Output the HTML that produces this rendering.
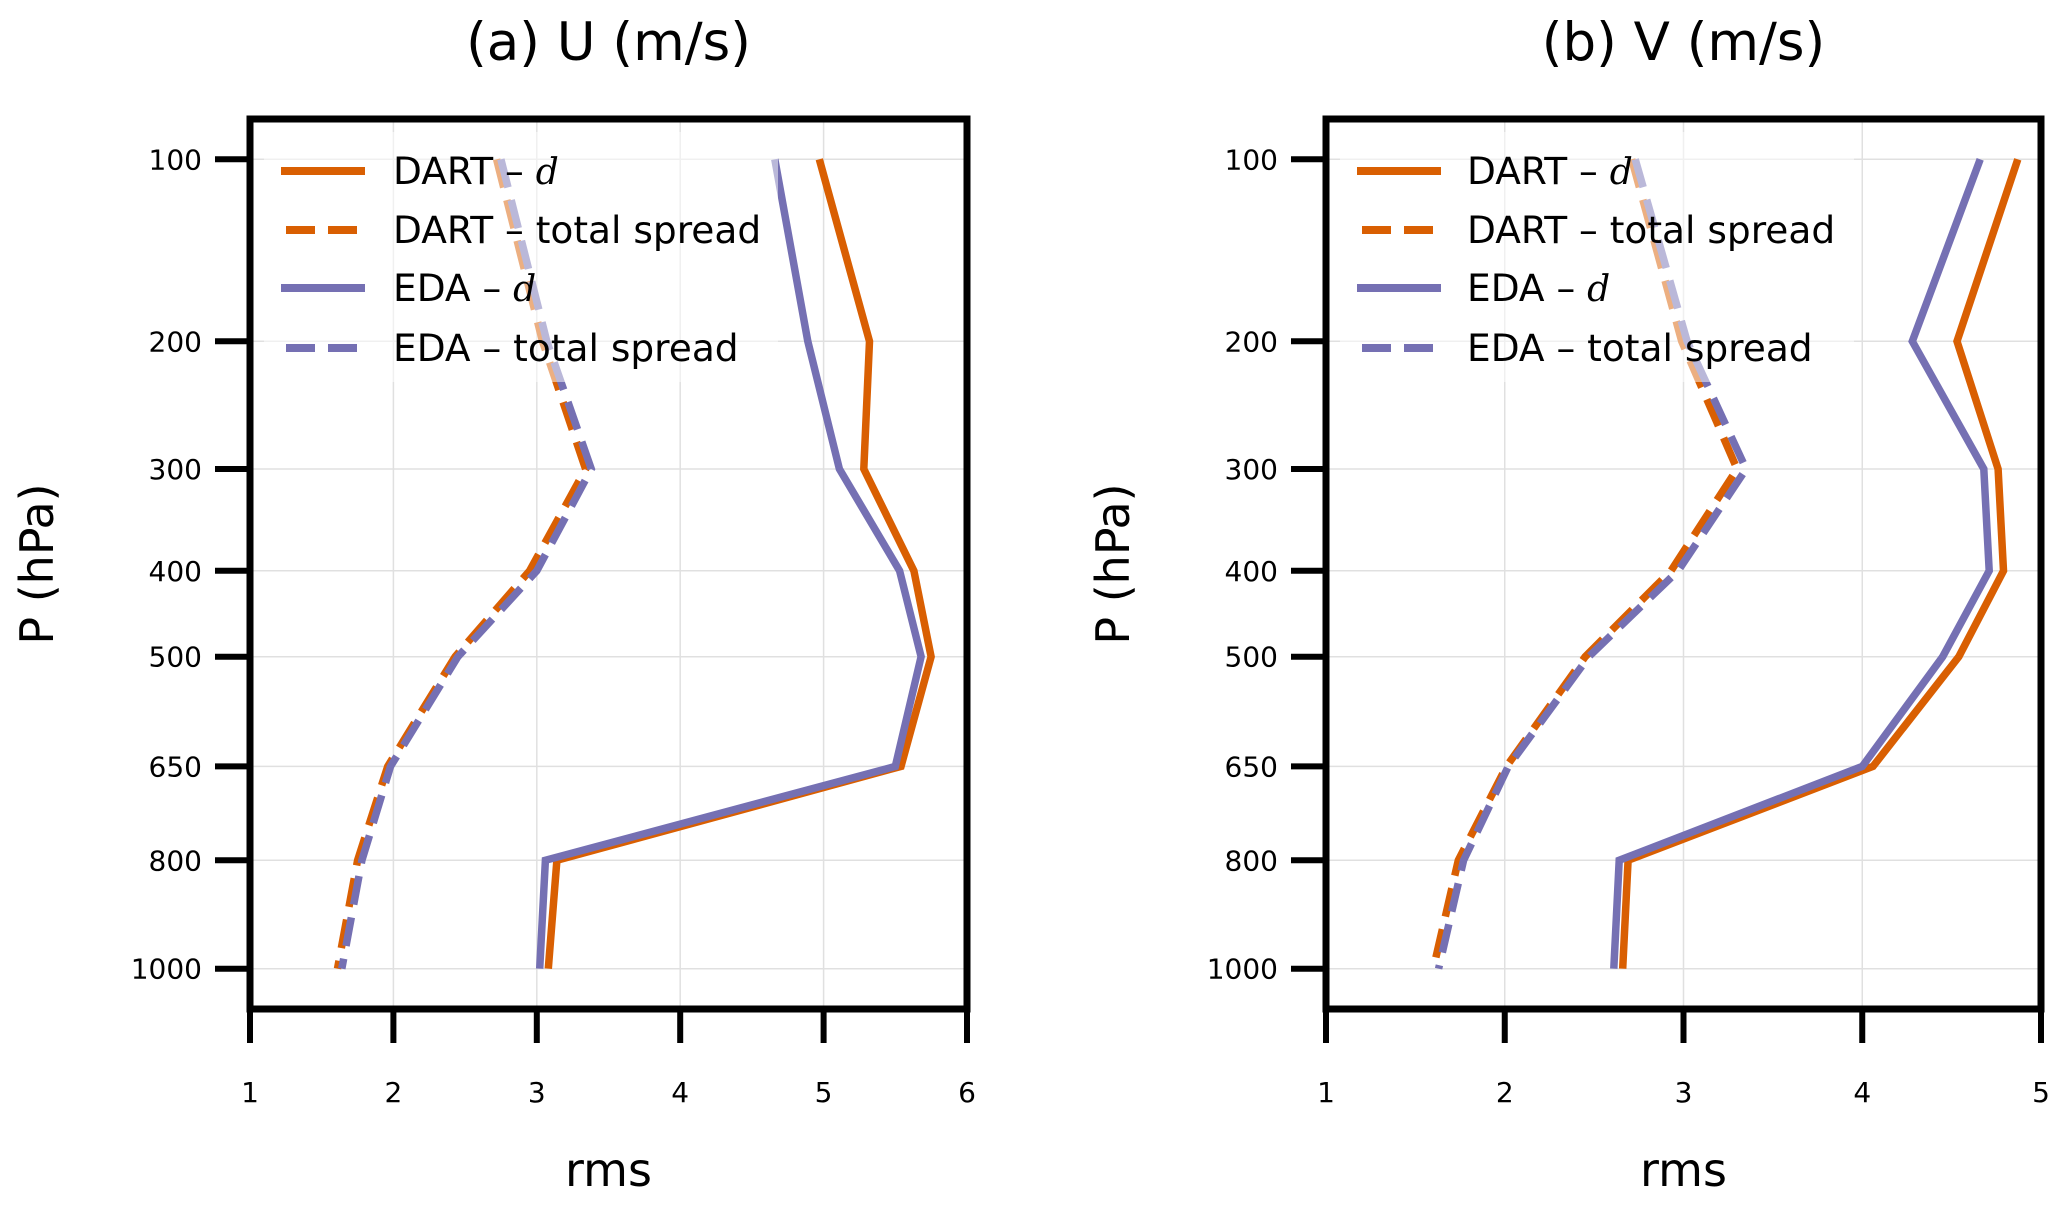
<!DOCTYPE html>
<html>
<head>
<meta charset="utf-8">
<style>
  html,body{margin:0;padding:0;background:#fff;}
  svg{display:block;font-family:"DejaVu Sans","Liberation Sans",sans-serif;}
</style>
</head>
<body>
<svg id="fig" width="2067" height="1206" viewBox="0 0 2067 1206" xmlns="http://www.w3.org/2000/svg"></svg>
<script>
// ---- data ----
const levels = [100, 200, 300, 400, 500, 650, 800, 1000];
const yTicks = [100, 200, 300, 400, 500, 650, 800, 1000];
const uDartD      = [4.97, 5.32, 5.28, 5.63, 5.75, 5.54, 3.14, 3.08];
const uEdaD       = [4.66, 4.89, 5.11, 5.53, 5.68, 5.50, 3.06, 3.02];
const uDartSpread = [2.72, 3.04, 3.34, 2.95, 2.43, 1.96, 1.75, 1.61];
const uEdaSpread  = [2.75, 3.07, 3.38, 3.00, 2.45, 1.98, 1.78, 1.64];
const vDartD      = [4.87, 4.53, 4.76, 4.79, 4.54, 4.06, 2.69, 2.66];
const vEdaD       = [4.66, 4.28, 4.68, 4.71, 4.45, 4.00, 2.64, 2.61];
const vDartSpread = [2.71, 2.99, 3.30, 2.93, 2.45, 2.01, 1.74, 1.60];
const vEdaSpread  = [2.73, 3.02, 3.35, 2.97, 2.47, 2.02, 1.77, 1.63];
const uXTicks = [1, 2, 3, 4, 5, 6];
const vXTicks = [1, 2, 3, 4, 5];

const NS = "http://www.w3.org/2000/svg";
const svg = document.getElementById('fig');
const ORANGE = "#d95f02", PURPLE = "#7570b3";

function el(tag, attrs, parent) {
  const e = document.createElementNS(NS, tag);
  for (const k in attrs) e.setAttribute(k, attrs[k]);
  (parent || svg).appendChild(e);
  return e;
}

function drawPanel(cfg) {
  const g = el('g', {});
  
  
  const L = cfg.left, R = cfg.right, T = 119, B = 1009;
  const xmin = cfg.xTicks[0], xmax = cfg.xTicks[cfg.xTicks.length - 1];
  const xs = v => L + (v - xmin) / (xmax - xmin) * (R - L);
  const K = 0.335, p0 = Math.pow(100, K), p1 = Math.pow(1000, K);
  const ys = p => 159.3 + (Math.pow(p, K) - p0) / (p1 - p0) * (968.7 - 159.3);

  cfg.xTicks.forEach(t => {
    const l = el('line', {x1: xs(t), x2: xs(t), y1: T, y2: B, stroke: '#e0e0e0', 'stroke-width': 1.5}, g);
    
    
  });
  yTicks.forEach(t => {
    const l = el('line', {x1: L, x2: R, y1: ys(t), y2: ys(t), stroke: '#e0e0e0', 'stroke-width': 1.5}, g);
    
    
  });

  const series = [
    {vals: cfg.dartD, color: ORANGE, dash: null, name: 'dart-d-line'},
    {vals: cfg.dartS, color: ORANGE, dash: '29 13', name: 'dart-spread-line'},
    {vals: cfg.edaD, color: PURPLE, dash: null, name: 'eda-d-line'},
    {vals: cfg.edaS, color: PURPLE, dash: '29 13', name: 'eda-spread-line'}
  ];
  series.forEach(s => {
    const pts = s.vals.map((v, i) => xs(v).toFixed(1) + ',' + ys(levels[i]).toFixed(1)).join(' ');
    const a = {points: pts, fill: 'none', stroke: s.color, 'stroke-width': 7.5, 'stroke-linejoin': 'miter'};
    if (s.dash) a['stroke-dasharray'] = s.dash;
    const pl = el('polyline', a, g);
    
    
  });

  const lg = el('g', {}, g);
  
  
  const lx = L + 14;
  el('rect', {x: lx, y: 132, width: cfg.legendW, height: 250, fill: '#fff', 'fill-opacity': 0.5}, lg);
  const entries = [
    {c: ORANGE, dash: null, t: 'DART – ', d: true},
    {c: ORANGE, dash: true, t: 'DART – total spread', d: false},
    {c: PURPLE, dash: null, t: 'EDA – ', d: true},
    {c: PURPLE, dash: true, t: 'EDA – total spread', d: false}
  ];
  const ly = [171, 230, 288, 348];
  entries.forEach((e, i) => {
    const eg = el('g', {}, lg);
    
    
    if (e.dash) {
      el('line', {x1: lx + 22, x2: lx + 51, y1: ly[i], y2: ly[i], stroke: e.c, 'stroke-width': 8}, eg);
      el('line', {x1: lx + 64, x2: lx + 93, y1: ly[i], y2: ly[i], stroke: e.c, 'stroke-width': 8}, eg);
    } else {
      el('line', {x1: lx + 17, x2: lx + 101, y1: ly[i], y2: ly[i], stroke: e.c, 'stroke-width': 8}, eg);
    }
    const tx = el('text', {x: lx + cfg.textOff, y: ly[i] + 13, 'font-size': 37.5, fill: '#000'}, eg);
    tx.textContent = e.t;
    if (e.d) {
      const ts = el('tspan', {'font-family': '"DejaVu Serif", "Liberation Serif", serif', 'font-style': 'italic', 'font-size': 36}, tx);
      ts.textContent = 'd';
    }
  });

  const sp = el('rect', {x: L, y: T, width: R - L, height: B - T, fill: 'none', stroke: '#000', 'stroke-width': 7}, g);
  
  

  yTicks.forEach(t => {
    el('line', {x1: L - 35, x2: L, y1: ys(t), y2: ys(t), stroke: '#000', 'stroke-width': 6}, g);
    const tl = el('text', {x: L - 48, y: ys(t) + 10, 'font-size': 28, 'text-anchor': 'end', fill: '#000'}, g);
    
    
    tl.textContent = t;
  });
  cfg.xTicks.forEach(t => {
    el('line', {x1: xs(t), x2: xs(t), y1: B, y2: B + 34, stroke: '#000', 'stroke-width': 6}, g);
    const tl = el('text', {x: xs(t), y: 1102, 'font-size': 28, 'text-anchor': 'middle', fill: '#000'}, g);
    
    
    tl.textContent = t;
  });

  const cx = (L + R) / 2;
  const title = el('text', {x: cx, y: 60, 'font-size': 53, 'text-anchor': 'middle', fill: '#000'}, g);
  
  
  title.textContent = cfg.title;

  const xl = el('text', {x: cx, y: 1186, 'font-size': 46, 'text-anchor': 'middle', fill: '#000'}, g);
  
  
  xl.textContent = 'rms';

  const yl = el('text', {x: 0, y: 0, 'font-size': 46, 'text-anchor': 'middle', fill: '#000',
    transform: 'translate(' + (L - 197) + ',564) rotate(-90)'}, g);
  
  
  yl.textContent = 'P (hPa)';
}

drawPanel({name: 'panel-u', left: 250, right: 967, xTicks: uXTicks, title: '(a) U (m/s)',
  dartD: uDartD, edaD: uEdaD, dartS: uDartSpread, edaS: uEdaSpread, legendW: 514, textOff: 129});
drawPanel({name: 'panel-v', left: 1326, right: 2041, xTicks: vXTicks, title: '(b) V (m/s)',
  dartD: vDartD, edaD: vEdaD, dartS: vDartSpread, edaS: vEdaSpread, legendW: 514, textOff: 127});
</script>
</body>
</html>
